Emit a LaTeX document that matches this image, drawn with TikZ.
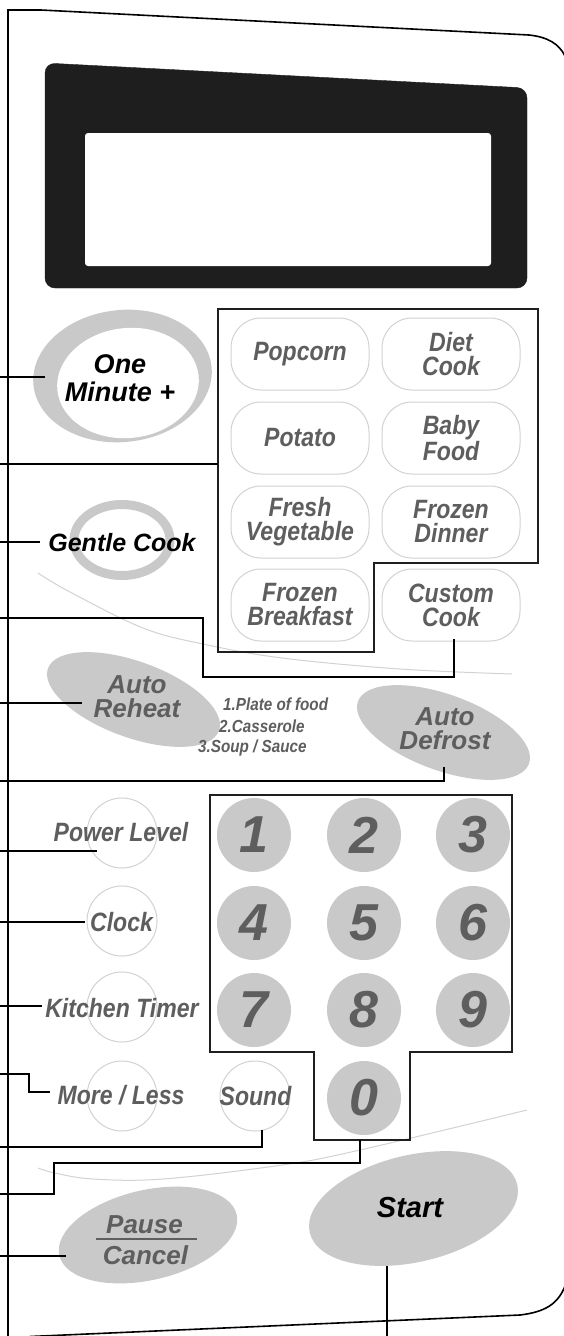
\documentclass[tikz,border=0pt]{standalone}
\usepackage{fontspec}
\setmainfont{Liberation Sans}
\newfontfamily\condfont[FakeStretch=0.87]{Liberation Sans}
\usetikzlibrary{shapes.geometric}
\definecolor{ringgray}{HTML}{C9C9C9}
\definecolor{txtgray}{HTML}{5E5E5E}
\definecolor{linegray}{HTML}{D2D2D2}
\definecolor{dispdark}{HTML}{1E1E1E}
\begin{document}
\begin{tikzpicture}[x=1pt,y=-1pt,
  conn/.style={line width=2pt, line join=miter},
  panel/.style={line width=1.6pt},
  keybox/.style={line width=1.8pt, draw=black!88},
  foodbtn/.style={draw=linegray, line width=1pt, rounded corners=30pt, minimum width=138pt, minimum height=72pt, inner sep=0pt, text=txtgray, align=center, font=\condfont\bfseries\itshape\fontsize{26.5}{24}\selectfont},
  keybtn/.style={circle, fill=ringgray, minimum size=74pt, inner sep=0pt, text=txtgray, font=\bfseries\itshape\fontsize{52}{52}\selectfont},
  smallbtn/.style={circle, draw=linegray, line width=1pt, minimum size=70pt, inner sep=0pt},
  bigbtn/.style={ellipse, fill=ringgray, inner sep=0pt},
  graylbl/.style={text=txtgray, inner sep=0pt, font=\condfont\bfseries\itshape\fontsize{26.5}{24}\selectfont},
  biglbl/.style={text=txtgray, inner sep=0pt, align=center, font=\bfseries\itshape\fontsize{26}{24}\selectfont},
  blacklbl/.style={text=black, inner sep=0pt, align=center, font=\bfseries\itshape\fontsize{#1}{25}\selectfont},
  listlbl/.style={text=txtgray, inner sep=0pt, anchor=base west, font=\condfont\bfseries\itshape\fontsize{17.5}{18}\selectfont},
  swoosh/.style={draw=linegray, line width=1pt}
]
\useasboundingbox (0,0) rectangle (564,1336);
\fill[white] (0,0) rectangle (564,1336);

% panel outline
\draw[panel] (8,1340) -- (8,10) -- (41,10) -- (529,35) .. controls (548,37) and (559,44) .. (565,56);
\draw[panel] (30,1336.5) -- (520,1315) .. controls (545,1312) and (558,1304) .. (565,1286);

% display
\filldraw[fill=dispdark, draw=dispdark, rounded corners=10pt] (45,63) -- (527,88) -- (527,288) -- (45,288) -- cycle;
\fill[white, rounded corners=3pt] (85,133) rectangle (491,266);

% swooshes
\draw[swoosh] plot[smooth, tension=0.6] coordinates {(38,573) (70,592) (143,628) (203,644) (282,658) (400,669) (512,674)};
\draw[swoosh] plot[smooth, tension=0.6] coordinates {(38,1168) (55,1173) (93,1179) (163,1179) (282,1165) (360,1150) (527,1110)};

% One Minute +
\node[bigbtn, minimum width=179pt, minimum height=132pt, rotate=6] (omring) at (122.5,376) {};
\node[ellipse, fill=white, inner sep=0pt, minimum width=142pt, minimum height=110pt, rotate=6] (omin) at (128,383) {};
\node[blacklbl=27, anchor=base] (omtext1) at (120,373) {One};
\node[blacklbl=27, anchor=base] (omtext2) at (120,401) {Minute +};

% Gentle Cook
\node[ellipse, draw=ringgray, line width=9pt, minimum width=96pt, minimum height=71pt, inner sep=0pt] (gcring) at (122,540) {};
\node[blacklbl=25] (gctext) at (122,543) {Gentle Cook};

% food grid
\draw[keybox] (218,309) -- (538,309) -- (538,563) -- (374,563) -- (374,652) -- (218,652) -- cycle;
\node[foodbtn] (popcorn) at (300,354) {Popcorn};
\node[foodbtn] (diet) at (451,354) {Diet\\Cook};
\node[foodbtn] (potato) at (300,438) {Potato};
\node[foodbtn] (baby) at (451,438) {Baby\\Food};
\node[foodbtn] (fresh) at (300,522) {Fresh\\Vegetable};
\node[foodbtn] (fdinner) at (451,522) {Frozen\\Dinner};
\node[foodbtn] (fbreak) at (300,605) {Frozen\\Breakfast};
\node[foodbtn] (custom) at (451,605) {Custom\\Cook};

% Auto Reheat / Defrost
\node[bigbtn, minimum width=182pt, minimum height=76pt, rotate=-20] (reheat) at (133.5,699.5) {};
\node[biglbl] (reheattxt) at (137,697) {Auto\\Reheat};
\node[bigbtn, minimum width=182pt, minimum height=76pt, rotate=-20] (defrost) at (443.5,732.5) {};
\node[biglbl] (defrosttxt) at (445,729) {Auto\\Defrost};
\node[listlbl] (li1) at (223,710) {1.Plate of food};
\node[listlbl] (li2) at (219,732) {2.Casserole};
\node[listlbl] (li3) at (198,752) {3.Soup / Sauce};

% keypad
\draw[keybox] (210,795) -- (512,795) -- (512,1052) -- (410,1052) -- (410,1140) -- (314,1140) -- (314,1052) -- (210,1052) -- cycle;
\foreach \d/\x/\y in {1/254/835, 2/364/835, 3/473/835, 4/254/923, 5/364/923, 6/473/923, 7/254/1010, 8/364/1010, 9/473/1010, 0/364/1098}
  \node[keybtn] (k\d) at (\x,\y) {\d};

% small buttons
\node[smallbtn] (plbtn) at (122,833) {};
\node[smallbtn] (clbtn) at (122,921) {};
\node[smallbtn] (ktbtn) at (122,1007) {};
\node[smallbtn] (mlbtn) at (122,1096) {};
\node[smallbtn] (sdbtn) at (255,1096) {};
\node[graylbl] (pltxt) at (121,832) {Power Level};
\node[graylbl] (cltxt) at (121.5,922) {Clock};
\node[graylbl] (kttxt) at (122,1008) {Kitchen Timer};
\node[graylbl] (mltxt) at (121,1095) {More / Less};
\node[graylbl] (sdtxt) at (255.5,1096) {Sound};

% Pause / Cancel
\node[bigbtn, minimum width=182pt, minimum height=90pt, rotate=13] (pause) at (148,1235) {};
\node[biglbl] (pausetxt) at (144.5,1225) {Pause};
\node[biglbl] (canceltxt) at (145.5,1255) {Cancel};
\coordinate (pb1) at (96,1239);
\coordinate (pb2) at (197,1239);
\draw[txtgray, line width=2pt] (pb1) -- (pb2);

% Start
\node[bigbtn, minimum width=213pt, minimum height=107pt, rotate=13] (start) at (413.5,1208.5) {};
\node[blacklbl=29] (starttxt) at (410,1208) {Start};

% connectors
\coordinate (L) at (0,0);
\coordinate (c1) at (45,377);
\coordinate (c2) at (218,464);
\coordinate (c3) at (40,542);
\coordinate (c4a) at (203,618);
\coordinate (c4) at (454,639);
\coordinate (c5) at (82,703);
\coordinate (s6) at (0,781);
\coordinate (c6) at (444,767);
\coordinate (c7) at (97,851);
\coordinate (c8) at (85,922);
\coordinate (c9) at (42,1006);
\coordinate (s10) at (0,1074);
\coordinate (c10) at (50,1092);
\coordinate (s11) at (0,1147);
\coordinate (c11) at (262,1130);
\coordinate (s12) at (0,1194);
\coordinate (c12) at (360,1140);
\coordinate (c13) at (66,1256);
\coordinate (c14) at (387,1266);
\coordinate (s14) at (387,1337);
\draw[conn] (c1 -| L) -- (c1);
\draw[conn] (c2 -| L) -- (c2);
\draw[conn] (c3 -| L) -- (c3);
\draw[conn] (c4a -| L) -- (c4a) -- ++(0,59) -| (c4);
\draw[conn] (c5 -| L) -- (c5);
\draw[conn] (s6) -| (c6);
\draw[conn] (c7 -| L) -- (c7);
\draw[conn] (c8 -| L) -- (c8);
\draw[conn] (c9 -| L) -- (c9);
\draw[conn] (s10) -- ++(29,0) |- (c10);
\draw[conn] (s11) -| (c11);
\draw[conn] (s12) -- ++(54,0) -- ++(0,-31) -| (c12);
\draw[conn] (c13 -| L) -- (c13);
\draw[conn] (c14) -- (s14);
\end{tikzpicture}
\end{document}
